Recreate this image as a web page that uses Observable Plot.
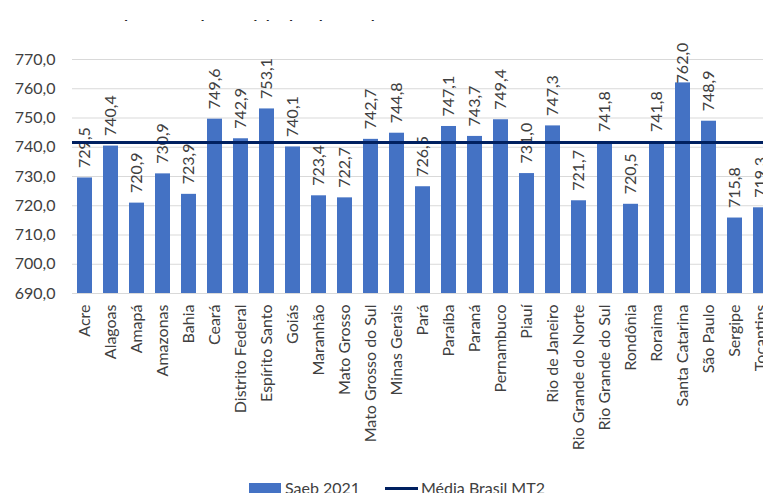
<!DOCTYPE html>
<html>
<head>
<meta charset="utf-8">
<script src="https://cdn.jsdelivr.net/npm/d3@7"></script>
<script src="https://cdn.jsdelivr.net/npm/@observablehq/plot@0.6"></script>
<style>
html, body { margin: 0; padding: 0; background: #fff; overflow: hidden; width: 763px; height: 493px; }
body { font-family: Lato, sans-serif; position: relative; color: #404040; }
#title { height: 21px; overflow: hidden; position: relative; }
#title span { position: absolute; left: 80px; top: 17px; font-size: 22px; line-height: 1; white-space: nowrap; color: #262626; }
#chart svg { max-width: none !important; width: 780px !important; height: 457px !important; background: transparent !important; overflow: visible; }
.lg { position: absolute; font-size: 16px; line-height: 20px; white-space: nowrap; color: #404040; }
</style>
</head>
<body>
<div id="title"><span>Fundamental - Unidade da Federação</span></div>
<div id="chart"></div>
<div class="lg" style="left:249px; top:483px; width:32px; height:14px; background:#4472C4;"></div>
<div class="lg" style="left:285px; top:478px;">Saeb 2021</div>
<div class="lg" style="left:385px; top:487px; width:33px; height:3px; background:#002060;"></div>
<div class="lg" style="left:421px; top:478px;">Média Brasil MT2</div>
<script>
const ufs = ["Acre","Alagoas","Amapá","Amazonas","Bahia","Ceará","Distrito Federal","Espírito Santo","Goiás","Maranhão","Mato Grosso","Mato Grosso do Sul","Minas Gerais","Pará","Paraíba","Paraná","Pernambuco","Piauí","Rio de Janeiro","Rio Grande do Norte","Rio Grande do Sul","Rondônia","Roraima","Santa Catarina","São Paulo","Sergipe","Tocantins"];
const saeb2021 = [729.5,740.4,720.9,730.9,723.9,749.6,742.9,753.1,740.1,723.4,722.7,742.7,744.8,726.5,747.1,743.7,749.4,731.0,747.3,721.7,741.8,720.5,741.8,762.0,748.9,715.8,719.3];
const mediaBrasilMT2 = 741.6;
const yTicks = [690,700,710,720,730,740,750,760,770];
const labelCap = 758.4;

const data = ufs.map((uf, i) => ({uf, v: saeb2021[i]}));
const fmt = d => d.toFixed(1).replace(".", ",");

const chart = Plot.plot({
  width: 780,
  height: 457,
  marginTop: 38,
  marginBottom: 185,
  marginLeft: 72,
  marginRight: 6,
  style: "font-family: Lato, sans-serif; font-size: 16px; color: #404040; background: transparent; max-width: none; overflow: visible;",
  x: {domain: ufs, paddingInner: 0.42, paddingOuter: 0.21, label: null},
  y: {domain: [yTicks[0], yTicks[yTicks.length - 1]], label: null},
  marks: [
    Plot.gridY(yTicks, {stroke: "#d9d9d9", strokeOpacity: 1}),
    Plot.axisY(yTicks, {tickSize: 0, tickPadding: 17, tickFormat: fmt, label: null, fill: "#404040"}),
    Plot.axisX({tickSize: 0, tickRotate: -90, tickPadding: 11, label: null, fill: "#404040"}),
    Plot.barY(data, {x: "uf", y1: yTicks[0], y2: "v", fill: "#4472C4"}),
    Plot.text(data, {x: "uf", y: d => Math.min(d.v, labelCap), text: d => fmt(d.v), rotate: -90, textAnchor: "start", dy: -10, fill: "#404040", fontSize: 16}),
    Plot.ruleY([mediaBrasilMT2], {stroke: "#002060", strokeWidth: 3})
  ]
});
document.getElementById("chart").appendChild(chart);
</script>
</body>
</html>
